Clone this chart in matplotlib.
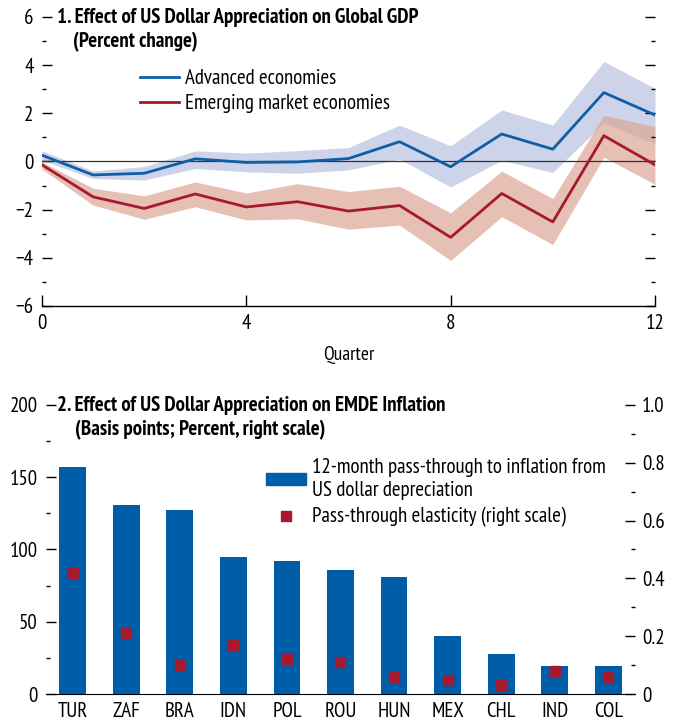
import numpy as np
import matplotlib
matplotlib.use('Agg')
import matplotlib.pyplot as plt
from matplotlib.ticker import MultipleLocator, FuncFormatter
from matplotlib.lines import Line2D
from matplotlib.patches import Patch

plt.rcParams['font.family'] = ['PT Sans Narrow', 'DejaVu Sans']
plt.rcParams['axes.unicode_minus'] = True

# Panel 1: impulse responses of GDP (percent change)
quarters = np.arange(13)
adv = [0.26, -0.56, -0.49, 0.11, -0.04, -0.02, 0.12, 0.82, -0.22, 1.14, 0.51, 2.86, 1.93]
adv_hi = [0.44, -0.39, -0.21, 0.44, 0.35, 0.45, 0.58, 1.51, 0.65, 2.14, 1.51, 4.15, 3.04]
adv_lo = [0.05, -0.71, -0.77, -0.29, -0.43, -0.49, -0.35, 0.10, -1.06, 0.05, -0.46, 1.60, 0.75]
eme = [-0.14, -1.47, -1.95, -1.35, -1.89, -1.67, -2.06, -1.83, -3.15, -1.33, -2.51, 1.07, -0.14]
eme_hi = [-0.02, -1.11, -1.43, -0.85, -1.31, -0.92, -1.25, -1.03, -2.13, -0.40, -1.54, 1.92, 1.45]
eme_lo = [-0.32, -1.81, -2.40, -1.88, -2.43, -2.38, -2.81, -2.64, -4.11, -2.29, -3.45, 0.18, -0.95]

# Panel 2: inflation pass-through
countries = ['TUR', 'ZAF', 'BRA', 'IDN', 'POL', 'ROU', 'HUN', 'MEX', 'CHL', 'IND', 'COL']
passthrough_bp = [157, 131, 127, 95, 92, 86, 81, 40, 28, 19.5, 19.5]
elasticity = [0.42, 0.21, 0.10, 0.17, 0.12, 0.11, 0.06, 0.05, 0.03, 0.08, 0.06]

BLUE = '#0e5fa8'
BLUE_BAND = '#cdd4e9'
RED = '#a6192e'
RED_BAND = '#dca596'
BAR = '#005da8'
FS = 15


def ytick_style(ax, pad=6):
    ax.tick_params(axis='y', which='both', direction='in', labelsize=FS, pad=pad, width=1.0)
    ax.tick_params(axis='y', which='major', length=7)
    ax.tick_params(axis='y', which='minor', length=3)


fig = plt.figure(figsize=(6.78, 7.28), dpi=100)

# ---- top panel
ax1 = fig.add_axes([0.062, 0.5797, 0.904, 0.397])
ax1.fill_between(quarters, adv_lo, adv_hi, color=BLUE_BAND, lw=0)
ax1.fill_between(quarters, eme_lo, eme_hi, color=RED_BAND, lw=0, alpha=0.7)
ax1.axhline(0, color='#333333', lw=0.9)
ax1.plot(quarters, adv, color=BLUE, lw=2.0)
ax1.plot(quarters, eme, color=RED, lw=2.0)
ax1.set_xlim(0, 12)
ax1.set_ylim(-6, 6)
ax1.set_xticks([0, 4, 8, 12])
ax1.yaxis.set_major_locator(MultipleLocator(2))
ax1.yaxis.set_minor_locator(MultipleLocator(1))
ax1.yaxis.set_major_formatter(FuncFormatter(lambda v, p: f'{v:.0f}'.replace('-', '\u2212')))
for s in ['top', 'left', 'right']:
    ax1.spines[s].set_visible(False)
ax1.spines['bottom'].set_linewidth(1.0)
ytick_style(ax1)
ax1.tick_params(axis='y', which='both', left=True, right=True)
ax1.tick_params(axis='x', direction='in', length=8, labelsize=FS, pad=6, width=1.0)
ax1.set_xlabel('Quarter', fontsize=FS - 1, labelpad=9)
ax1.text(0.024, 0.997, '1. Effect of US Dollar Appreciation on Global GDP',
         transform=ax1.transAxes, fontsize=FS, fontweight='bold', va='center', ha='left')
ax1.text(0.050, 0.913, '(Percent change)', transform=ax1.transAxes,
         fontsize=FS, fontweight='bold', va='center', ha='left')
h1 = [Line2D([], [], color=BLUE, lw=2.0), Line2D([], [], color=RED, lw=2.0)]
ax1.legend(h1, ['Advanced economies', 'Emerging market economies'], frameon=False,
           loc='upper left', bbox_to_anchor=(0.16, 0.82), fontsize=FS,
           handlelength=1.85, handletextpad=0.3, labelspacing=0.3, borderaxespad=0,
           borderpad=0)

# ---- bottom panel
ax2 = fig.add_axes([0.0678, 0.0467, 0.8688, 0.397])
x = np.arange(len(countries))
ax2.bar(x, passthrough_bp, width=0.5, color=BAR)
ax2.set_xlim(-0.5, len(countries) - 0.5)
ax2.set_ylim(0, 200)
ax2.set_xticks(x)
ax2.set_xticklabels(countries)
ax2.yaxis.set_major_locator(MultipleLocator(50))
ax2.yaxis.set_minor_locator(MultipleLocator(25))
for s in ['top', 'left', 'right']:
    ax2.spines[s].set_visible(False)
ax2.tick_params(axis='x', length=0, labelsize=FS, pad=6)
ytick_style(ax2)

ax2r = ax2.twinx()
ax2r.plot(x, elasticity, ls='none', marker='s', ms=7.5, color=RED)
ax2r.set_ylim(0, 1.0)
ax2r.yaxis.set_major_locator(MultipleLocator(0.2))
ax2r.yaxis.set_minor_locator(MultipleLocator(0.1))
ax2r.yaxis.set_major_formatter(FuncFormatter(lambda v, p: '0' if abs(v) < 1e-9 else f'{v:.1f}'))
for s in ['top', 'left', 'right', 'bottom']:
    ax2r.spines[s].set_visible(False)
ytick_style(ax2r, pad=5)

ax2.text(0.019, 0.997, '2. Effect of US Dollar Appreciation on EMDE Inflation',
         transform=ax2.transAxes, fontsize=FS, fontweight='bold', va='center', ha='left')
ax2.text(0.050, 0.913, '(Basis points; Percent, right scale)', transform=ax2.transAxes,
         fontsize=FS, fontweight='bold', va='center', ha='left')
h2 = [Patch(color=BAR), Line2D([], [], ls='none', marker='s', ms=7.5, color=RED)]
leg2 = ax2r.legend(h2, ['12-month pass-through to inflation from\nUS dollar depreciation',
                        'Pass-through elasticity (right scale)'], frameon=False,
                   loc='upper left', bbox_to_anchor=(0.374, 0.818), fontsize=FS,
                   handlelength=1.9, handleheight=0.5, handletextpad=0.3, labelspacing=0.35,
                   borderaxespad=0, borderpad=0)
for t in leg2.get_texts():
    t.set_linespacing(1.3)

fig.savefig('out.png', dpi=100)
